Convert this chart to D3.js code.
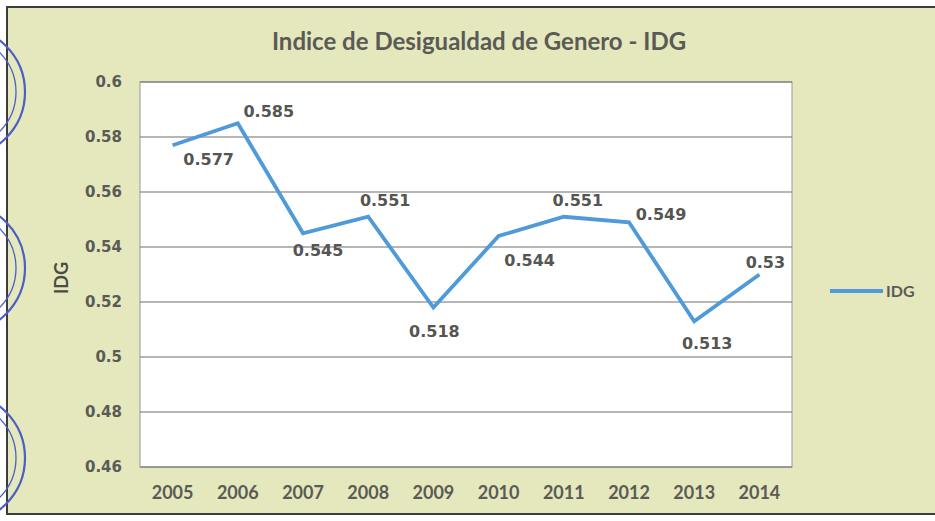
<!DOCTYPE html>
<html>
<head>
<meta charset="utf-8">
<script src="https://cdn.jsdelivr.net/npm/d3@7"></script>
<style>
  body { margin: 0; background: #ffffff; }
  svg { display: block; }
</style>
</head>
<body>
<div id="chart"></div>
<script>
'use strict';

// data
const years = ['2005','2006','2007','2008','2009','2010','2011','2012','2013','2014'];
const idg = [0.577, 0.585, 0.545, 0.551, 0.518, 0.544, 0.551, 0.549, 0.513, 0.53];
const labels = ['0.577','0.585','0.545','0.551','0.518','0.544','0.551','0.549','0.513','0.53'];
const yTicks = [0.46, 0.48, 0.5, 0.52, 0.54, 0.56, 0.58, 0.6];

// hand placed label offsets (same as the source chart)
const labelDx = [36, 31, 15, 17, 1, 31, 14, 32, 13, 6];
const labelDy = [14, -12, 17, -16, 24, 24, -16, -8, 22, -12];

const W = 935, H = 521;
let margin = {top: 82, left: 140},
  width = 792 - 140,
  height = 467 - 82;

let svg = d3.select('#chart').append('svg')
  .attr('width', W)
  .attr('height', H);

// green chart area with dark frame
svg.append('rect')
  .attr('x', 7).attr('y', 7)
  .attr('width', W + 10).attr('height', 507)
  .style('fill', '#e4e8bc')
  .style('stroke', '#3c3c3c')
  .style('stroke-width', 2);

// stamps on the left margin
let stamps = svg.append('g').style('fill', 'none').style('stroke', '#4b5fc4');
[92, 268, 458].forEach(function(cy) {
  stamps.append('circle').attr('cx', -40).attr('cy', cy).attr('r', 65).style('stroke-width', 2.2);
  stamps.append('circle').attr('cx', -40).attr('cy', cy).attr('r', 56).style('stroke-width', 1.3);
});

let g = svg.append('g')
  .attr('transform', 'translate(' + margin.left + ',' + margin.top + ')');

let x = d3.scaleBand()
  .domain(years)
  .range([0, width]);

let y = d3.scaleLinear()
  .domain([0.46, 0.6])
  .range([height, 0]);

// plot area
g.append('rect')
  .attr('width', width)
  .attr('height', height)
  .style('fill', '#ffffff')
  .style('stroke', '#9a9a9a')
  .style('stroke-width', 1);

// gridlines
g.selectAll('.grid')
  .data(yTicks)
  .enter()
  .append('line')
  .attr('x1', 0).attr('x2', width)
  .attr('y1', d => y(d)).attr('y2', d => y(d))
  .style('stroke', '#6e6e6e')
  .style('stroke-width', 1.2);

// y axis
let yAxis = g.append('g')
  .call(d3.axisLeft(y).tickValues(yTicks).tickSize(0).tickPadding(18).tickFormat(d => String(+d.toFixed(2))));
yAxis.select('.domain').remove();
yAxis.selectAll('text')
  .style('font-family', '"DejaVu Sans", Verdana, sans-serif')
  .style('font-weight', 'bold')
  .style('font-size', '15px')
  .style('fill', '#5a5a56');

// x axis
let xAxis = g.append('g')
  .attr('transform', 'translate(0,' + height + ')')
  .call(d3.axisBottom(x).tickSize(0).tickPadding(19));
xAxis.select('.domain').remove();
xAxis.selectAll('text')
  .style('font-family', '"Liberation Sans Narrow", Lato, sans-serif')
  .style('font-weight', 'bold')
  .style('font-size', '18px')
  .style('fill', '#5a5a56');

// the line
let line = d3.line()
  .x((d, i) => x(years[i]) + x.bandwidth() / 2)
  .y(d => y(d));

g.append('path')
  .datum(idg)
  .attr('d', line)
  .style('fill', 'none')
  .style('stroke', '#4f9ad8')
  .style('stroke-width', 3.8)
  .style('stroke-linejoin', 'miter');

// data labels
g.selectAll('.lbl')
  .data(idg)
  .enter()
  .append('text')
  .attr('x', (d, i) => x(years[i]) + x.bandwidth() / 2 + labelDx[i])
  .attr('y', (d, i) => y(d) + labelDy[i])
  .attr('dy', '0.35em')
  .attr('text-anchor', 'middle')
  .style('font-family', '"DejaVu Sans", Verdana, sans-serif')
  .style('font-weight', 'bold')
  .style('font-size', '16px')
  .style('fill', '#555551')
  .text((d, i) => labels[i]);

// title
svg.append('text')
  .attr('x', 479)
  .attr('y', 50)
  .attr('text-anchor', 'middle')
  .style('font-family', '"Liberation Sans Narrow", Lato, sans-serif')
  .style('font-weight', 'bold')
  .style('font-size', '24px')
  .style('fill', '#5a5a56')
  .text('Indice de Desigualdad de Genero - IDG');

// y axis title
svg.append('text')
  .attr('transform', 'translate(68,278) rotate(-90)')
  .attr('text-anchor', 'middle')
  .style('font-family', '"Liberation Sans Narrow", Lato, sans-serif')
  .style('font-weight', 'bold')
  .style('font-size', '18px')
  .style('fill', '#4a4a46')
  .text('IDG');

// legend
let legend = svg.append('g').attr('transform', 'translate(830,291)');
legend.append('line')
  .attr('x1', 0).attr('x2', 53)
  .style('stroke', '#4f9ad8')
  .style('stroke-width', 3.8);
legend.append('text')
  .attr('x', 56)
  .attr('dy', '0.35em')
  .style('font-family', '"Liberation Sans Narrow", Lato, sans-serif')
  .style('font-weight', 'bold')
  .style('font-size', '16px')
  .style('fill', '#5a5a56')
  .text('IDG');
</script>
</body>
</html>
